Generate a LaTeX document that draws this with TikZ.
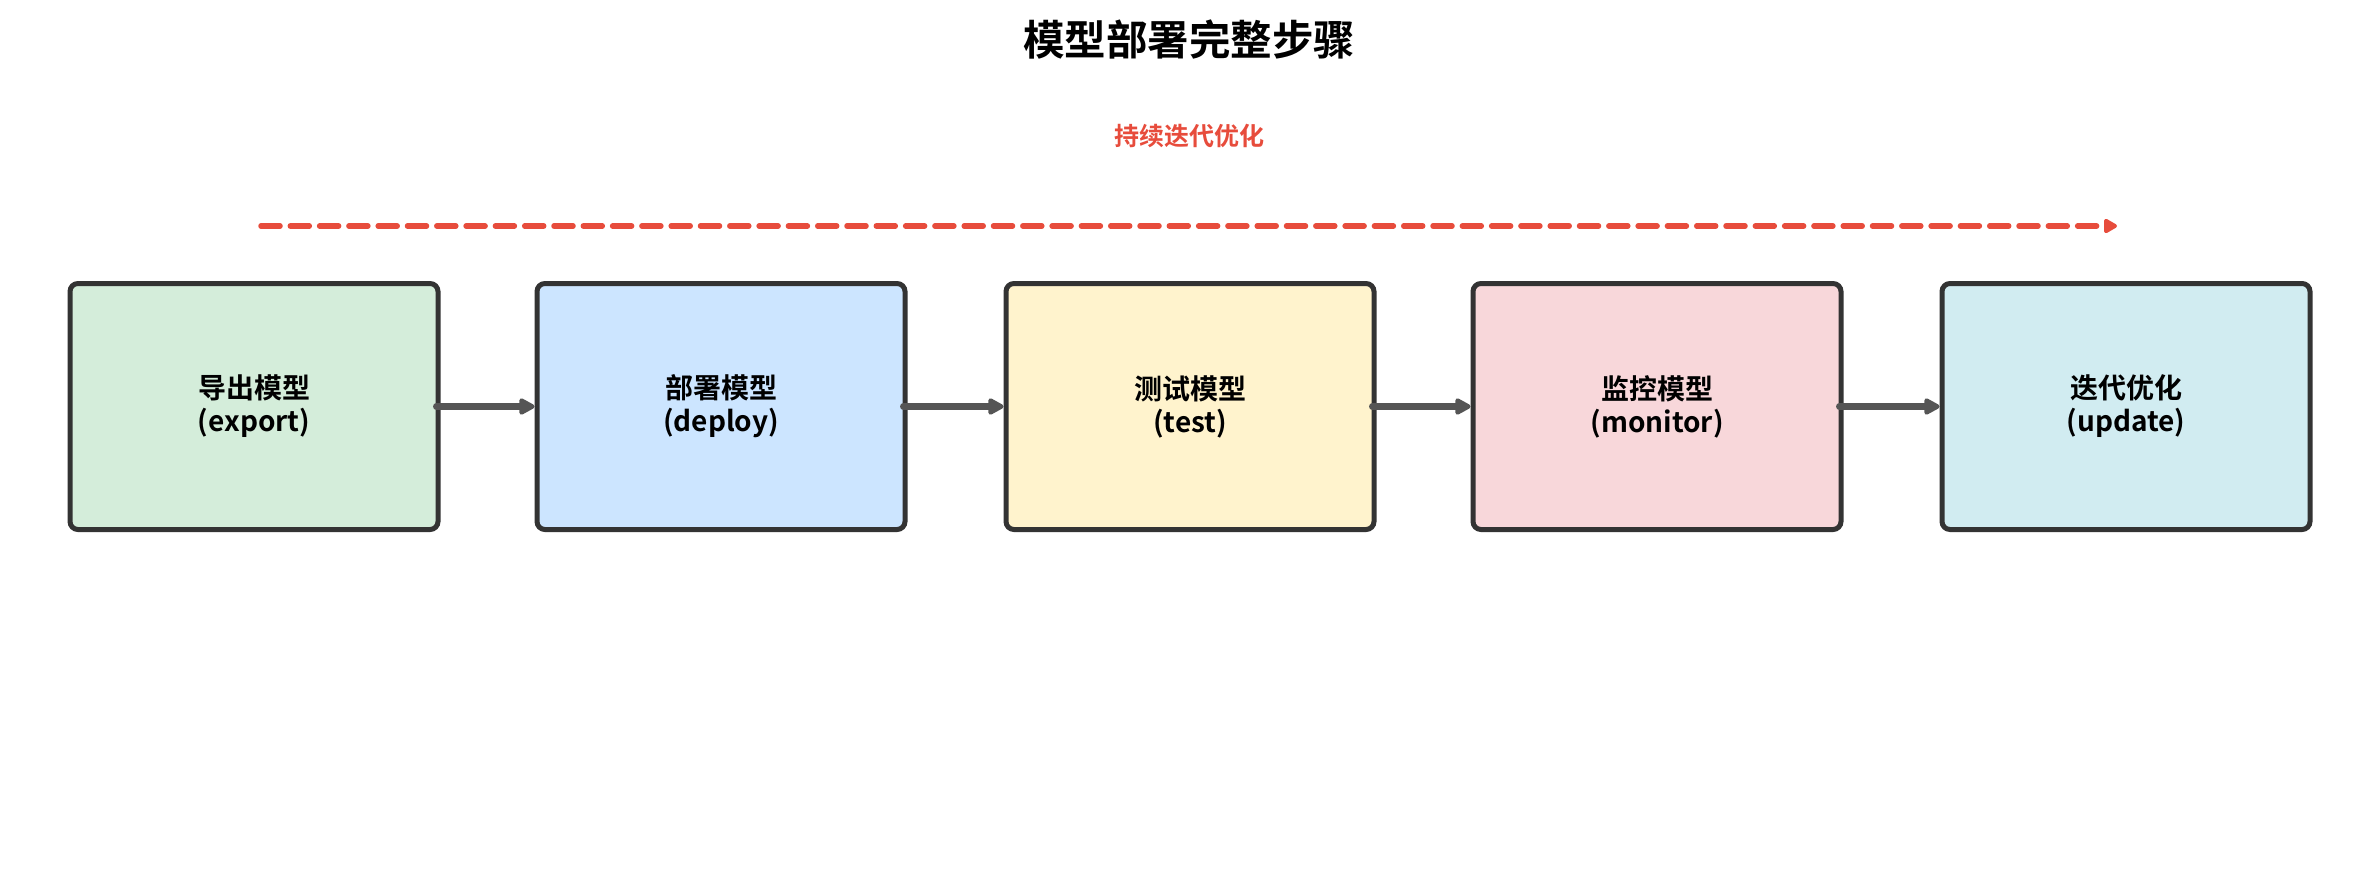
\documentclass[tikz,border=0pt]{standalone}
\usepackage{fontspec}
\setmainfont{Noto Sans CJK SC}[BoldFont={Noto Sans CJK SC Bold}]
\usetikzlibrary{arrows.meta}
\definecolor{bordergray}{HTML}{333333}
\definecolor{arrowgray}{HTML}{555555}
\definecolor{loopred}{HTML}{E74C3C}
\definecolor{fgreen}{HTML}{D4EDDA}
\definecolor{fblue}{HTML}{CCE5FF}
\definecolor{fyellow}{HTML}{FFF3CD}
\definecolor{fpink}{HTML}{F8D7DA}
\definecolor{fcyan}{HTML}{D1ECF1}
\tikzset{
  stepbox/.style={draw=bordergray, line width=5pt, rounded corners=8pt,
    minimum width=368pt, minimum height=246pt, inner sep=0pt, align=center,
    font=\fontsize{28}{33}\selectfont\bfseries},
  flowarrow/.style={draw=arrowgray, line width=7pt, line cap=round,
    -{Triangle[length=18pt,width=18pt,round]}, shorten <=-4pt},
  looparrow/.style={draw=loopred, line width=5.5pt, line cap=round,
    dash pattern=on 19pt off 10.3pt,
    -{Triangle[length=15pt,width=16pt,round]}},
}
\begin{document}
\begin{tikzpicture}[x=1pt,y=-1pt]
\useasboundingbox (0,0) rectangle (2379,878);
\node (title) at (1189,40) {\fontsize{41.5}{46}\selectfont\bfseries 模型部署完整步骤};
\node[text=loopred] (looplabel) at (1189,136) {\fontsize{25}{28}\selectfont\bfseries 持续迭代优化};
\coordinate (ls) at (261,226);
\coordinate (le) at (2117,226);
\draw[looparrow] (ls) -- (le);
\node[stepbox, fill=fgreen]  (b1) at (254,406.5)  {导出模型\\(export)};
\node[stepbox, fill=fblue]   (b2) at (721,406.5)  {部署模型\\(deploy)};
\node[stepbox, fill=fyellow] (b3) at (1190,406.5) {测试模型\\(test)};
\node[stepbox, fill=fpink]   (b4) at (1657,406.5) {监控模型\\(monitor)};
\node[stepbox, fill=fcyan]   (b5) at (2126,406.5) {迭代优化\\(update)};
\draw[flowarrow] (b1.east) -- (b2.west);
\draw[flowarrow] (b2.east) -- (b3.west);
\draw[flowarrow] (b3.east) -- (b4.west);
\draw[flowarrow] (b4.east) -- (b5.west);
\end{tikzpicture}
\end{document}
